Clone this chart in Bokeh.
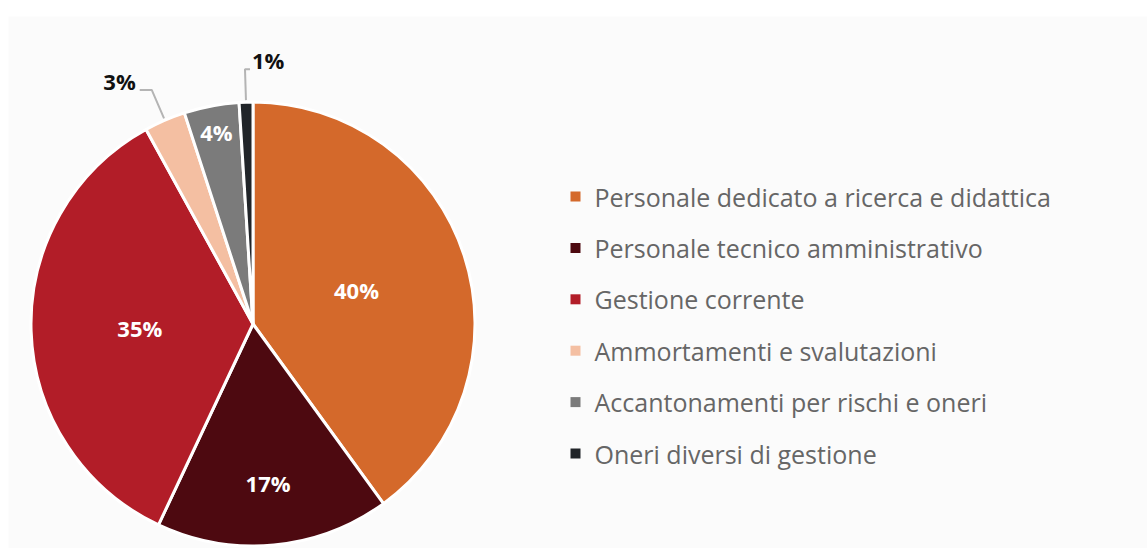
import math
from bokeh.plotting import figure
from bokeh.models import Range1d, ColumnDataSource
from bokeh.core.properties import value
from bokeh.embed import file_html
from bokeh.resources import INLINE

categories = ["Personale dedicato a ricerca e didattica",
              "Personale tecnico amministrativo",
              "Gestione corrente",
              "Ammortamenti e svalutazioni",
              "Accantonamenti per rischi e oneri",
              "Oneri diversi di gestione"]
values = [40, 17, 35, 3, 4, 1]
labels = ["40%", "17%", "35%", "3%", "4%", "1%"]
colors = ["#d4692b", "#4d0910", "#b21d28", "#f4bfa2", "#7b7b7b", "#212529"]

# style: label placement
label_r = [0.49, 0.72, 0.51, None, 0.88, None]
outside = [False, False, False, True, False, True]

W, H = 1147, 548
BL, BT = 8, 16
fw, fh = W - BL, H - BT

p = figure(width=W, height=H, output_backend="svg", toolbar_location=None,
           x_range=Range1d(0, fw), y_range=Range1d(0, fh),
           min_border_left=BL, min_border_right=0, min_border_bottom=0, min_border_top=BT)
p.axis.visible = False
p.grid.visible = False
p.outline_line_color = None
p.background_fill_color = "#fbfbfb"
p.border_fill_color = "white"

# screen px -> data helpers
def dx(px):
    return px - BL
def dy(py):
    return H - py

cx, cy, R = dx(252.5), dy(323.5), 222

total = float(sum(values))
starts, ends, mids = [], [], []
acc = 0.0
for v in values:
    t1 = acc / total * 2 * math.pi
    acc += v
    t2 = acc / total * 2 * math.pi
    starts.append(math.pi / 2 - t2)
    ends.append(math.pi / 2 - t1)
    mids.append(math.pi / 2 - (t1 + t2) / 2)

src = ColumnDataSource(dict(start=starts, end=ends, color=colors))
p.wedge(x=cx, y=cy, radius=R, start_angle="start", end_angle="end",
        fill_color="color", line_color="white", line_width=3, source=src)

font = "Open Sans"
# inside labels
ix, iy, it = [], [], []
for i, lab in enumerate(labels):
    if not outside[i]:
        r = label_r[i] * R
        ix.append(cx + r * math.cos(mids[i]))
        iy.append(cy + r * math.sin(mids[i]))
        it.append(lab)
p.text(x=ix, y=iy, text=it, text_color="white", text_font=value(font),
       text_font_style="bold", text_font_size="22px",
       text_align="center", text_baseline="middle")

# outside labels with leaders
for i, lab in enumerate(labels):
    if outside[i]:
        a = mids[i]
        ex, ey = cx + (R + 2) * math.cos(a), cy + (R + 2) * math.sin(a)
        bx, by = cx + (R + 33) * math.cos(a), cy + (R + 33) * math.sin(a)
        left = math.cos(a) < -0.1
        hx = bx - 12 if left else bx + 5
        p.line([ex, bx, hx], [ey, by, by], line_color="#b4b4b4", line_width=2)
        tx = hx - 4 if left else hx + 2
        p.text(x=[tx], y=[by + 9], text=[lab], text_color="#111111",
               text_font=value(font), text_font_style="bold", text_font_size="22px",
               text_align="right" if left else "left", text_baseline="middle")

# legend
ly0 = 196
lstep = 51.4
lgx, lgy, lgt = [], [], []
for i, c in enumerate(categories):
    lgx.append(dx(575))
    lgy.append(dy(ly0 + i * lstep))
    lgt.append(c)
p.scatter(x=lgx, y=lgy, marker="square", size=10, fill_color=colors, line_color=None)
p.text(x=[dx(594)] * len(categories), y=lgy, text=lgt, text_color="#666666",
       text_font=value(font), text_font_size="25px",
       text_align="left", text_baseline="middle")

open("out.html", "w").write(file_html(p, INLINE))
